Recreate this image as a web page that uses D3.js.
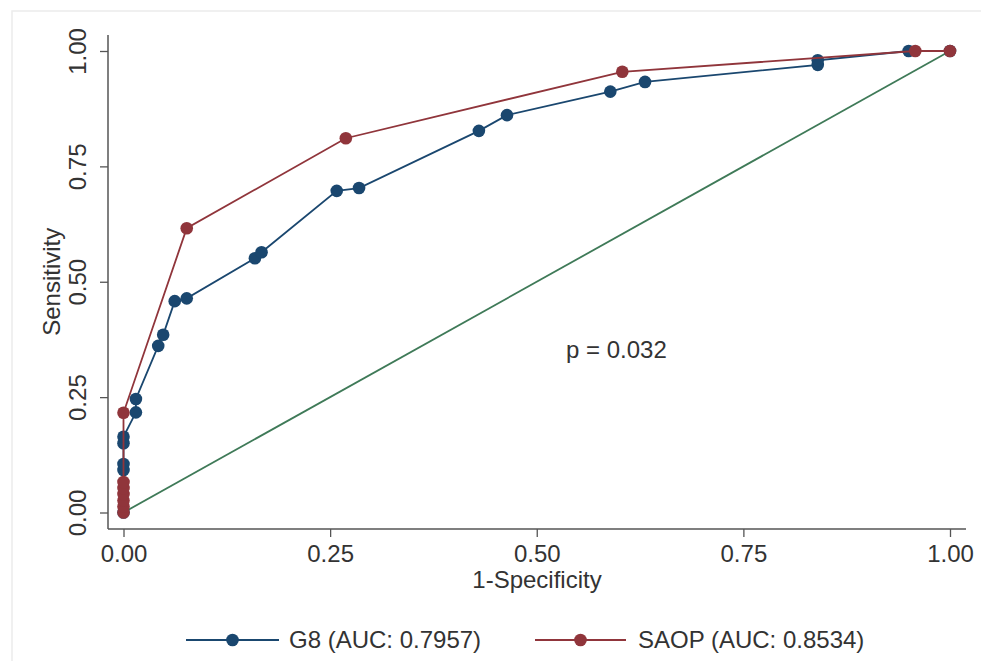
<!DOCTYPE html>
<html>
<head>
<meta charset="utf-8">
<script src="https://cdn.jsdelivr.net/npm/d3@7"></script>
<style>
html,body{margin:0;padding:0;background:#fff;}
svg{display:block;font-family:"Liberation Sans",Arial,sans-serif;}
</style>
</head>
<body>
<svg id="chart" width="981" height="661"></svg>
<script>
// ---- data ----
const seriesNames = ["G8 (AUC: 0.7957)", "SAOP (AUC: 0.8534)"];
const g8X = [0, 0, 0, 0, 0, 0.015, 0.015, 0.042, 0.048, 0.062, 0.0765, 0.159, 0.167, 0.258, 0.285, 0.430, 0.464, 0.589, 0.631, 0.840, 0.840, 0.950, 1];
const g8Y = [0, 0.092, 0.105, 0.150, 0.164, 0.217, 0.246, 0.361, 0.385, 0.458, 0.464, 0.551, 0.564, 0.697, 0.703, 0.827, 0.861, 0.912, 0.933, 0.970, 0.980, 1.0, 1];
const saopX = [0, 0, 0, 0, 0, 0, 0, 0.0765, 0.269, 0.6035, 0.958, 1];
const saopY = [0, 0.013, 0.026, 0.040, 0.053, 0.066, 0.216, 0.616, 0.811, 0.955, 1.0, 1];
const refX = [0, 1];
const refY = [0, 1];
const tickValues = [0, 0.25, 0.5, 0.75, 1];
const tickLabels = ["0.00", "0.25", "0.50", "0.75", "1.00"];
const xTitle = "1-Specificity";
const yTitle = "Sensitivity";
const annotation = "p = 0.032";

// ---- styles ----
const colBlue = "#1a476f", colRed = "#90353b", colGreen = "#3f7a58";
const textCol = "#333", axisCol = "#555";
const fs = 24;
const r = 6.3;

const svg = d3.select("#chart");
// outer faint frame
svg.append("rect").attr("x", 12).attr("y", 11).attr("width", 1000).attr("height", 700)
  .attr("fill", "none").attr("stroke", "#ececec").attr("stroke-width", 1.5);

const x = d3.scaleLinear().domain([0, 1]).range([123.5, 950]);
const y = d3.scaleLinear().domain([0, 1]).range([512.5, 51]);
const axisX0 = 108, axisY0 = 529, axisXEnd = 966, axisYTop = 35;

// axes lines
svg.append("line").attr("x1", axisX0).attr("x2", axisX0).attr("y1", axisYTop).attr("y2", axisY0)
  .attr("stroke", axisCol).attr("stroke-width", 1.5);
svg.append("line").attr("x1", axisX0).attr("x2", axisXEnd).attr("y1", axisY0).attr("y2", axisY0)
  .attr("stroke", axisCol).attr("stroke-width", 1.5);

const fmt = d => tickLabels[tickValues.indexOf(d)];
const xAxis = svg.append("g").attr("transform", `translate(0,${axisY0})`)
  .call(d3.axisBottom(x).tickValues(tickValues).tickFormat(fmt).tickSize(8).tickSizeOuter(0).tickPadding(8));
xAxis.select(".domain").remove();
xAxis.selectAll("line").attr("stroke", axisCol).attr("stroke-width", 1.3);
xAxis.selectAll("text").attr("font-size", fs).attr("fill", textCol).attr("font-family", "Liberation Sans, Arial, sans-serif");

const yAxis = svg.append("g").attr("transform", `translate(${axisX0},0)`)
  .call(d3.axisLeft(y).tickValues(tickValues).tickFormat(fmt).tickSize(8).tickSizeOuter(0));
yAxis.select(".domain").remove();
yAxis.selectAll("line").attr("stroke", axisCol).attr("stroke-width", 1.3);
yAxis.selectAll("text")
  .attr("font-size", fs).attr("fill", textCol).attr("font-family", "Liberation Sans, Arial, sans-serif")
  .attr("text-anchor", "middle").attr("x", null).attr("dy", "0").attr("y", 0)
  .attr("transform", `translate(-22,0) rotate(-90)`);

// titles
svg.append("text").attr("x", (axisX0 + axisXEnd) / 2).attr("y", 588).attr("text-anchor", "middle")
  .attr("font-size", fs).attr("fill", textCol).text(xTitle);
svg.append("text").attr("transform", `translate(60,${(51 + 512.5) / 2}) rotate(-90)`).attr("text-anchor", "middle")
  .attr("font-size", fs).attr("fill", textCol).text(yTitle);

// reference line
const line = d3.line().x(d => x(d[0])).y(d => y(d[1]));
svg.append("path").datum(d3.zip(refX, refY)).attr("d", line)
  .attr("fill", "none").attr("stroke", colGreen).attr("stroke-width", 1.8);

function drawSeries(xs, ys, col) {
  const pts = d3.zip(xs, ys);
  svg.append("path").datum(pts).attr("d", line).attr("fill", "none")
    .attr("stroke", col).attr("stroke-width", 1.8);
  svg.append("g").selectAll("circle").data(pts).join("circle")
    .attr("cx", d => x(d[0])).attr("cy", d => y(d[1])).attr("r", r).attr("fill", col);
}
drawSeries(g8X, g8Y, colBlue);
drawSeries(saopX, saopY, colRed);

// annotation
svg.append("text").attr("x", 566).attr("y", 358).attr("font-size", fs).attr("fill", textCol).text(annotation);

// legend
const legendItems = [
  {name: seriesNames[0], col: colBlue, x1: 186, x2: 279, tx: 289},
  {name: seriesNames[1], col: colRed, x1: 535, x2: 626, tx: 638}
];
const lg = svg.append("g");
legendItems.forEach(it => {
  lg.append("line").attr("x1", it.x1).attr("x2", it.x2).attr("y1", 640).attr("y2", 640)
    .attr("stroke", it.col).attr("stroke-width", 1.8);
  lg.append("circle").attr("cx", (it.x1 + it.x2) / 2).attr("cy", 640).attr("r", r).attr("fill", it.col);
  lg.append("text").attr("x", it.tx).attr("y", 648).attr("font-size", fs).attr("fill", textCol).text(it.name);
});
</script>
</body>
</html>
